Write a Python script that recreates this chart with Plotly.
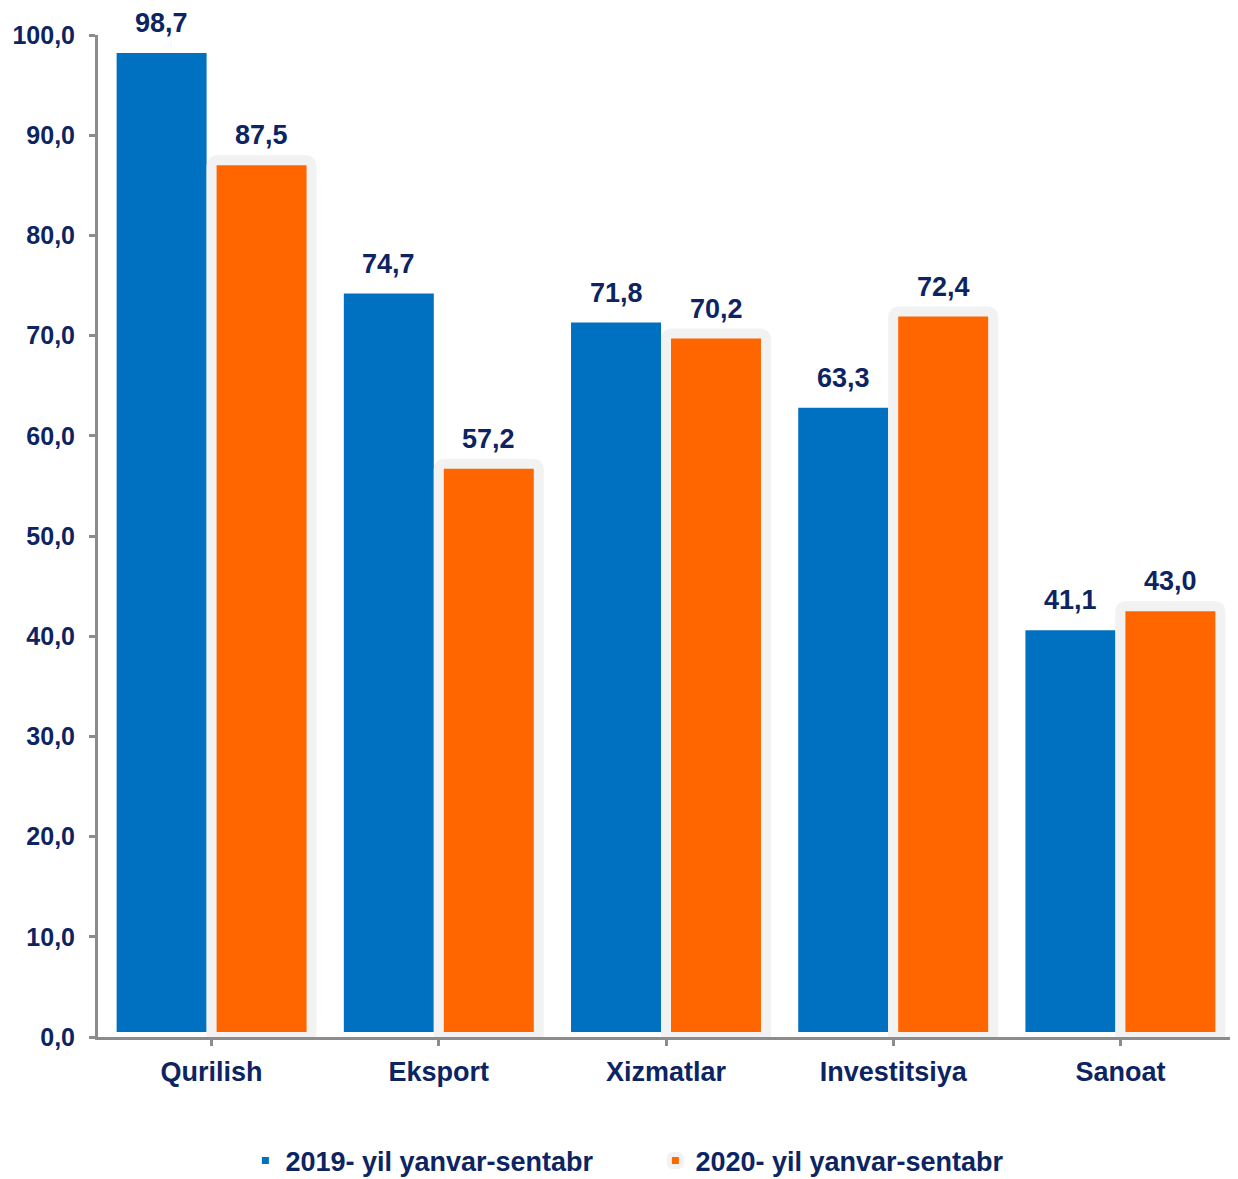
import plotly.graph_objects as go

categories = ["Qurilish", "Eksport", "Xizmatlar", "Investitsiya", "Sanoat"]
series_names = ["2019- yil yanvar-sentabr", "2020- yil yanvar-sentabr"]
values_2019 = [98.7, 74.7, 71.8, 63.3, 41.1]
values_2020 = [87.5, 57.2, 70.2, 72.4, 43.0]
y_ticks = [0, 10, 20, 30, 40, 50, 60, 70, 80, 90, 100]

NAVY = "#0C2461"
BLUE = "#0070C0"
ORANGE = "#FF6600"
AXIS = "#8C8C8C"
FONT = "Liberation Sans"

xs = list(range(len(categories)))

fig = go.Figure()
fig.add_trace(go.Bar(
    x=xs, y=values_2019, name=series_names[0],
    marker=dict(color=BLUE, line=dict(color="#FFFFFF", width=10)),
))
fig.add_trace(go.Bar(
    x=xs, y=values_2020, name=series_names[1],
    marker=dict(color=ORANGE, line=dict(color="#F2F2F2", width=10), cornerradius=5),
))

annotations = []
for vals, shift in ((values_2019, -50), (values_2020, 50)):
    for x, v in zip(xs, vals):
        annotations.append(dict(
            x=x, y=v, xref="x", yref="y", text=f"{v:.1f}".replace(".", ","),
            showarrow=False, xshift=shift, yshift=9, yanchor="bottom",
            borderpad=0,
            font=dict(family=FONT, size=27, color=NAVY, weight="bold"),
        ))

# the page adds an 8px body margin, so the figure is 8px smaller than the window
fig.update_layout(
    width=1230, height=1171,
    margin=dict(l=90, r=4, t=27, b=142),
    plot_bgcolor="white", paper_bgcolor="white",
    barmode="group", bargap=0.12, bargroupgap=0,
    separators=", ",
    font=dict(family=FONT, color=NAVY, weight="bold"),
    showlegend=True,
    legend=dict(
        orientation="h", xref="container", yref="container",
        x=0.193, xanchor="left", y=0.0154, yanchor="middle",
        entrywidth=365, entrywidthmode="pixels",
        font=dict(family=FONT, size=27, color=NAVY, weight="bold"),
        itemclick=False,
    ),
    annotations=annotations,
)

fig.update_xaxes(
    range=[-0.5, len(categories) - 0.5],
    tickmode="array", tickvals=xs + [len(categories) - 0.5],
    ticktext=categories + [""],
    ticks="outside", ticklen=6, tickwidth=3, tickcolor=AXIS,
    showline=True, linecolor=AXIS, linewidth=3,
    showgrid=False, zeroline=False,
    tickfont=dict(family=FONT, size=27, color=NAVY, weight="bold"),
    ticklabelstandoff=3,
)
fig.update_yaxes(
    range=[0, 100], tickmode="array", tickvals=y_ticks, tickformat=".1f",
    ticks="outside", ticklen=6, tickwidth=3, tickcolor=AXIS,
    showline=True, linecolor=AXIS, linewidth=3,
    showgrid=False, zeroline=False,
    tickfont=dict(family=FONT, size=25, color=NAVY, weight="bold"),
    ticklabelstandoff=9,
)

fig.write_html("out.html")
